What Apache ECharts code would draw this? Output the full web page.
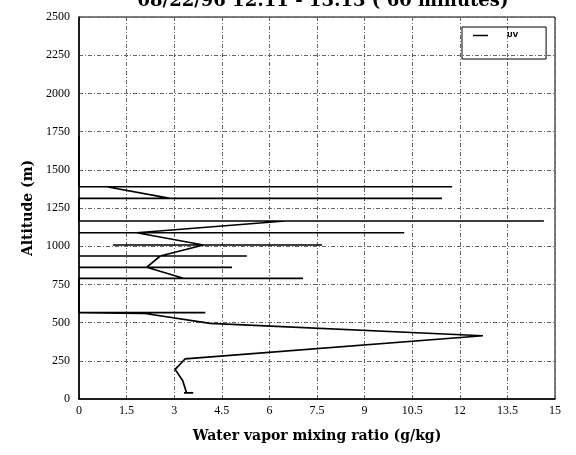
<!DOCTYPE html>
<html>
<head>
<meta charset="utf-8">
<script src="https://cdn.jsdelivr.net/npm/echarts@6/dist/echarts.min.js"></script>
<style>html,body{margin:0;padding:0;background:#fff}#c{width:576px;height:455px}</style>
</head>
<body>
<div id="c"></div>
<script>
const titleText = "08/22/96 12:11 - 13:13 ( 60 minutes)";
const seriesName = "UV";
const xAxisName = "Water vapor mixing ratio (g/kg)";
const yAxisName = "Altitude (m)";
const xMin = 0, xMax = 15, xStep = 1.5;
const yMin = 0, yMax = 2500, yStep = 250;

const mixingRatio = [3.31, 3.60, 3.39, 3.27, 3.03, 3.34, 12.73, 4.13, 2.03, 0, 3.98, 0,
  0, 7.06, 3.29, 2.13, 0, 4.82, 2.13, 2.56, 0, 5.29, 2.56, 3.92, 1.07, 7.66, 3.92,
  1.82, 0, 10.25, 1.82, 6.5, 0, 14.65, 0, 0, 11.44, 2.87, 0.87, 0, 11.76, 0, 0];
const altitude = [40, 40, 40, 120, 194, 262, 414, 495, 561, 565, 565, 565,
  790, 790, 790, 862, 862, 862, 862, 936, 936, 936, 936, 1008, 1008, 1008, 1008,
  1088, 1088, 1088, 1088, 1165, 1165, 1165, 1165, 1313, 1313, 1313, 1389, 1389, 1389, 1389, 1720];

const points = mixingRatio.map((v, i) => [v, altitude[i]]);

const chart = echarts.init(document.getElementById('c'), null, {renderer: 'canvas'});
const gridLine = {show: true, lineStyle: {color: '#666', width: 1, type: [4, 2, 1, 2]}};
chart.setOption({
  backgroundColor: '#fff',
  animation: false,
  title: {
    text: titleText, left: 318, textAlign: 'center', top: -13,
    textStyle: {fontFamily: 'DejaVu Serif', fontWeight: 'bold', fontSize: 18, color: '#000'}
  },
  legend: {
    left: 462, top: 27, orient: 'vertical',
    borderColor: '#000', borderWidth: 1,
    padding: [5, 28, 20, 11],
    icon: 'rect', itemWidth: 15, itemHeight: 1.5,
    textStyle: {fontFamily: 'DejaVu Sans', fontWeight: 'bold', fontSize: 7, color: '#000', padding: [0, 0, 0, 14]},
    data: [seriesName]
  },
  grid: {left: 79, right: 21, top: 17, bottom: 56, show: true, borderColor: '#000', borderWidth: 1},
  xAxis: {
    type: 'value', min: xMin, max: xMax, interval: xStep,
    name: xAxisName, nameLocation: 'middle', nameGap: 30,
    nameTextStyle: {fontFamily: 'DejaVu Serif', fontWeight: 'bold', fontSize: 14, color: '#000'},
    axisLine: {show: true, lineStyle: {color: '#000', width: 1.5}},
    axisTick: {show: false},
    axisLabel: {fontFamily: 'Liberation Serif', fontSize: 12, color: '#000', margin: 6,
      formatter: v => String(v)},
    splitLine: gridLine
  },
  yAxis: {
    type: 'value', min: yMin, max: yMax, interval: yStep,
    name: yAxisName, nameLocation: 'middle', nameGap: 43,
    nameTextStyle: {fontFamily: 'DejaVu Serif', fontWeight: 'bold', fontSize: 14, color: '#000'},
    axisLine: {show: true, lineStyle: {color: '#000', width: 1.5}},
    axisTick: {show: false},
    axisLabel: {fontFamily: 'Liberation Serif', fontSize: 12, color: '#000', margin: 9,
      formatter: v => String(v)},
    splitLine: gridLine
  },
  series: [{
    name: seriesName, type: 'line', data: points,
    symbol: 'none', lineStyle: {color: '#000', width: 1.7}, itemStyle: {color: '#000'}
  }]
});
</script>
</body>
</html>
